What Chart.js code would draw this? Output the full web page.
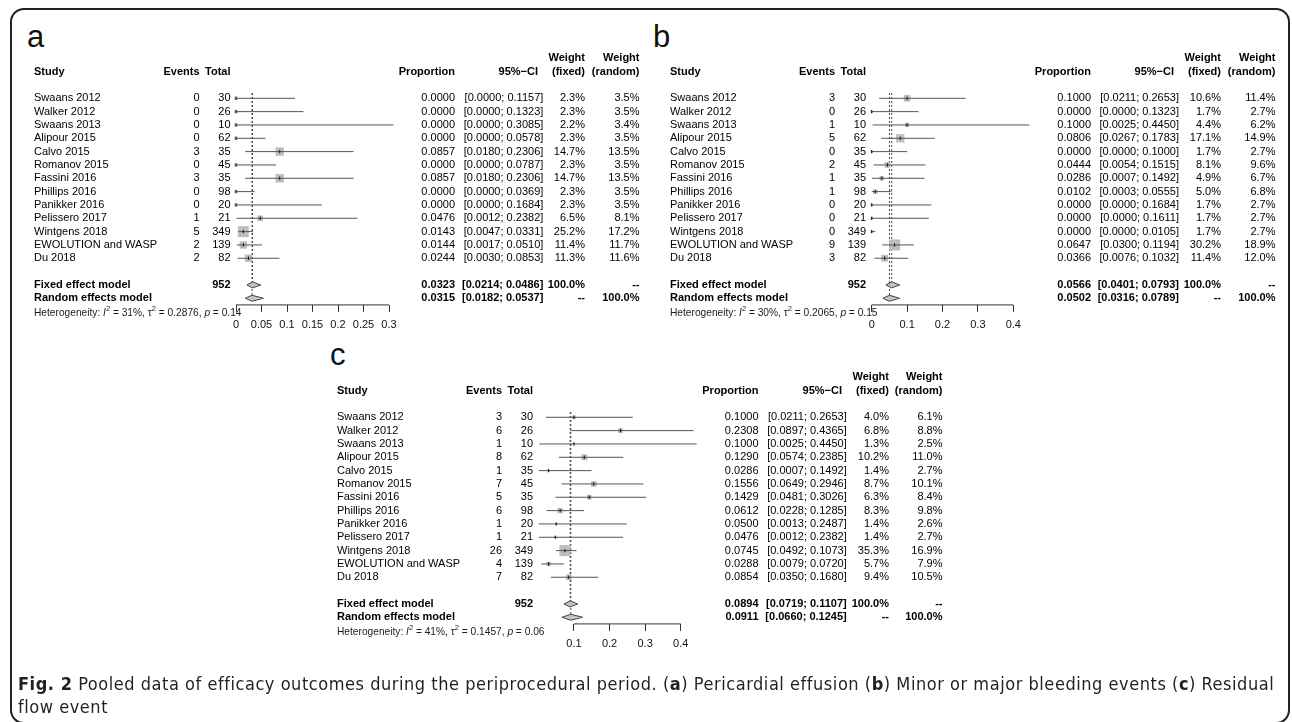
<!DOCTYPE html>
<html><head><meta charset="utf-8">
<script src="https://cdn.jsdelivr.net/npm/chart.js@4.4.1/dist/chart.umd.min.js"></script>
<style>
html,body{margin:0;padding:0;background:#fff;}
body{width:1292px;height:722px;position:relative;overflow:hidden;font-family:"Liberation Sans",Arial,sans-serif;}
.frame{position:absolute;left:10px;top:8px;width:1276px;height:712px;border:2px solid #222;border-radius:14px;}
canvas{position:absolute;left:0;top:0;}
.lbl{position:absolute;font-size:31px;color:#111;line-height:30px;}
.cap{position:absolute;left:18px;top:672px;font-family:"Liberation Sans Narrow","DejaVu Sans Condensed",sans-serif;font-size:18px;letter-spacing:0.54px;line-height:23px;color:#231f20;white-space:nowrap;}
</style></head>
<body>
<div class="frame"></div>
<div class="lbl" style="left:27px;top:22px;">a</div>
<div class="lbl" style="left:653px;top:22px;">b</div>
<div class="lbl" style="left:330px;top:340px;">c</div>
<canvas id="ca" width="1292" height="722"></canvas>
<canvas id="cb" width="1292" height="722"></canvas>
<canvas id="cc" width="1292" height="722"></canvas>
<div class="cap"><b>Fig. 2</b> Pooled data of efficacy outcomes during the periprocedural period. (<b>a</b>) Pericardial effusion (<b>b</b>) Minor or major bleeding events (<b>c</b>) Residual<br>flow event</div>
<script>
// ---------- data ----------
const studies = ['Swaans 2012','Walker 2012','Swaans 2013','Alipour 2015','Calvo 2015','Romanov 2015','Fassini 2016','Phillips 2016','Panikker 2016','Pelissero 2017','Wintgens 2018','EWOLUTION and WASP','Du 2018'];
const totals = [30,26,10,62,35,45,35,98,20,21,349,139,82];

// panel a: pericardial effusion
const eventsA = [0,0,0,0,3,0,3,0,0,1,5,2,2];
const propA = [0,0,0,0,0.0857,0,0.0857,0,0,0.0476,0.0143,0.0144,0.0244];
const lowA = [0,0,0,0,0.0180,0,0.0180,0,0,0.0012,0.0047,0.0017,0.0030];
const highA = [0.1157,0.1323,0.3085,0.0578,0.2306,0.0787,0.2306,0.0369,0.1684,0.2382,0.0331,0.0510,0.0853];
const wFixedA = [2.3,2.3,2.2,2.3,14.7,2.3,14.7,2.3,2.3,6.5,25.2,11.4,11.3];
const wRandomA = [3.5,3.5,3.4,3.5,13.5,3.5,13.5,3.5,3.5,8.1,17.2,11.7,11.6];
const fixedA = [0.0323,0.0214,0.0486];
const randomA = [0.0315,0.0182,0.0537];
const hetA = ['31%','0.2876','0.14'];
const ticksA = [0,0.05,0.1,0.15,0.2,0.25,0.3];
const tickLabelsA = ['0','0.05','0.1','0.15','0.2','0.25','0.3'];

// panel b: bleeding events
const eventsB = [3,0,1,5,0,2,1,1,0,0,0,9,3];
const propB = [0.1000,0,0.1000,0.0806,0,0.0444,0.0286,0.0102,0,0,0,0.0647,0.0366];
const lowB = [0.0211,0,0.0025,0.0267,0,0.0054,0.0007,0.0003,0,0,0,0.0300,0.0076];
const highB = [0.2653,0.1323,0.4450,0.1783,0.1000,0.1515,0.1492,0.0555,0.1684,0.1611,0.0105,0.1194,0.1032];
const wFixedB = [10.6,1.7,4.4,17.1,1.7,8.1,4.9,5.0,1.7,1.7,1.7,30.2,11.4];
const wRandomB = [11.4,2.7,6.2,14.9,2.7,9.6,6.7,6.8,2.7,2.7,2.7,18.9,12.0];
const fixedB = [0.0566,0.0401,0.0793];
const randomB = [0.0502,0.0316,0.0789];
const hetB = ['30%','0.2065','0.15'];
const ticksB = [0,0.1,0.2,0.3,0.4];
const tickLabelsB = ['0','0.1','0.2','0.3','0.4'];

// panel c: residual flow
const eventsC = [3,6,1,8,1,7,5,6,1,1,26,4,7];
const propC = [0.1000,0.2308,0.1000,0.1290,0.0286,0.1556,0.1429,0.0612,0.0500,0.0476,0.0745,0.0288,0.0854];
const lowC = [0.0211,0.0897,0.0025,0.0574,0.0007,0.0649,0.0481,0.0228,0.0013,0.0012,0.0492,0.0079,0.0350];
const highC = [0.2653,0.4365,0.4450,0.2385,0.1492,0.2946,0.3026,0.1285,0.2487,0.2382,0.1073,0.0720,0.1680];
const wFixedC = [4.0,6.8,1.3,10.2,1.4,8.7,6.3,8.3,1.4,1.4,35.3,5.7,9.4];
const wRandomC = [6.1,8.8,2.5,11.0,2.7,10.1,8.4,9.8,2.6,2.7,16.9,7.9,10.5];
const fixedC = [0.0894,0.0719,0.1107];
const randomC = [0.0911,0.0660,0.1245];
const hetC = ['41%','0.1457','0.06'];
const ticksC = [0.1,0.2,0.3,0.4];
const tickLabelsC = ['0.1','0.2','0.3','0.4'];

// ---------- layout ----------
const W = 1292, H = 722, ROW = 13.33, HALF_D = 0.225, MAXBOX = 11, AXIS_H = 40;
const FONT = '"Liberation Sans", Arial, sans-serif';
Chart.defaults.font.family = FONT;

// xl/xr: pixel of scale min/max
const layouts = {
  a: {y0: 98.3, xmin: 0, xmax: 0.3, xl: 236, xr: 389, study: 34, ev: 199.5, tot: 230.5, est: 455, ci: 543.3, ciHdr: 538, wf: 585, wr: 639.5},
  b: {y0: 98.3, xmin: 0, xmax: 0.4, xl: 871.7, xr: 1013.3, study: 670, ev: 835, tot: 866, est: 1091, ci: 1179, ciHdr: 1174, wf: 1221, wr: 1275.5},
  c: {y0: 417.3, xmin: 0, xmax: 0.4, xl: 538.4, xr: 680.7, study: 337, ev: 502, tot: 533, est: 758.5, ci: 846.7, ciHdr: 842, wf: 889, wr: 942.5}
};

const totalN = totals.reduce((s, v) => s + v, 0);
const fmtCI = (lo, hi) => '[' + lo.toFixed(4) + '; ' + hi.toFixed(4) + ']';

function makeChart(canvasId, d, L) {
  const n = studies.length;
  const rowF = n + 1, rowR = n + 2, rowAxis = n + 2.5;
  const wmax = Math.max(...d.wFixed);
  const ci = [];
  studies.forEach((s, i) => { ci.push({x: d.low[i], y: i}, {x: d.high[i], y: i}, {x: null, y: null}); });
  const pts = d.prop.map((p, i) => ({x: p, y: i}));
  // half diamonds (left to right), each filled towards its centre row; trailing gap keeps all points
  const halfDiamond = (v, r, sgn) => [{x: v[1], y: r}, {x: v[0], y: r + sgn * HALF_D}, {x: v[2], y: r}, {x: null, y: null}];
  const dia = (v, r, sgn) => ({data: halfDiamond(v, r, sgn), showLine: true, spanGaps: false, fill: {value: r},
    backgroundColor: '#c2c2c2', borderColor: '#444', borderWidth: 1, pointRadius: 0, clip: false});
  const ref = [{x: d.fixed[0], y: -0.4}, {x: d.fixed[0], y: rowF + 0.2}, {x: null, y: null},
               {x: d.random[0], y: -0.4}, {x: d.random[0], y: rowR + 0.2}];
  const axisLine = [{x: d.ticks[0], y: rowAxis}, {x: d.ticks[d.ticks.length - 1], y: rowAxis}, {x: null, y: null}];

  const tablePlugin = {
    id: 'table_' + canvasId,
    afterDraw(chart) {
      const ctx = chart.ctx, ys = chart.scales.y;
      const Y = r => ys.getPixelForValue(r);
      ctx.save();
      ctx.fillStyle = '#000';
      ctx.textBaseline = 'middle';
      const t = (s, x, r, align, bold) => {
        ctx.font = (bold ? 'bold ' : '') + '11px ' + FONT;
        ctx.textAlign = align;
        ctx.fillText(s, x, Y(r));
      };
      t('Study', L.study, -2, 'left', true);
      t('Events', L.ev, -2, 'right', true);
      t('Total', L.tot, -2, 'right', true);
      t('Proportion', L.est, -2, 'right', true);
      t('95%\u2212CI', L.ciHdr, -2, 'right', true);
      t('Weight', L.wf, -3, 'right', true);
      t('(fixed)', L.wf, -2, 'right', true);
      t('Weight', L.wr, -3, 'right', true);
      t('(random)', L.wr, -2, 'right', true);
      studies.forEach((s, i) => {
        t(s, L.study, i, 'left');
        t(String(d.events[i]), L.ev, i, 'right');
        t(String(totals[i]), L.tot, i, 'right');
        t(d.prop[i].toFixed(4), L.est, i, 'right');
        t(fmtCI(d.low[i], d.high[i]), L.ci, i, 'right');
        t(d.wFixed[i].toFixed(1) + '%', L.wf, i, 'right');
        t(d.wRandom[i].toFixed(1) + '%', L.wr, i, 'right');
      });
      t('Fixed effect model', L.study, rowF, 'left', true);
      t(String(totalN), L.tot, rowF, 'right', true);
      t(d.fixed[0].toFixed(4), L.est, rowF, 'right', true);
      t(fmtCI(d.fixed[1], d.fixed[2]), L.ci, rowF, 'right', true);
      t('100.0%', L.wf, rowF, 'right', true);
      t('--', L.wr, rowF, 'right', true);
      t('Random effects model', L.study, rowR, 'left', true);
      t(d.random[0].toFixed(4), L.est, rowR, 'right', true);
      t(fmtCI(d.random[1], d.random[2]), L.ci, rowR, 'right', true);
      t('--', L.wf, rowR, 'right', true);
      t('100.0%', L.wr, rowR, 'right', true);
      // heterogeneity
      let x = L.study; const yy = Y(rowR + 1.1);
      ctx.textAlign = 'left';
      ctx.fillStyle = '#1a1a1a';
      const part = (s, font, dy) => { ctx.font = font; ctx.fillText(s, x, yy + (dy || 0)); x += ctx.measureText(s).width; };
      const f = '10.2px ' + FONT, fi = 'italic 10.2px ' + FONT, fs = '7.5px ' + FONT;
      part('Heterogeneity: ', f); part('I', fi); part('2', fs, -4);
      part(' = ' + d.het[0] + ', ', f); part('\u03C4', f); part('2', fs, -4);
      part(' = ' + d.het[1] + ', ', f); part('p', fi); part(' = ' + d.het[2], f);
      ctx.restore();
    }
  };

  return new Chart(document.getElementById(canvasId), {
    type: 'scatter',
    data: {
      datasets: [
        {data: pts, pointStyle: 'line', pointRotation: 90, pointRadius: 1.7, pointBorderColor: '#111', pointBorderWidth: 1, clip: false},
        {data: ci, showLine: true, spanGaps: false, borderColor: '#555', borderWidth: 1, pointRadius: 0, clip: false},
        dia(d.fixed, rowF, -1), dia(d.fixed, rowF, 1),
        dia(d.random, rowR, -1), dia(d.random, rowR, 1),
        {data: pts, pointStyle: 'rect', pointRadius: c => MAXBOX * Math.sqrt(d.wFixed[c.dataIndex] / wmax) / Math.SQRT2,
         pointBackgroundColor: '#bdbdbd', pointBorderWidth: 0, clip: false},
        {data: ref, showLine: true, spanGaps: false, borderColor: '#444', borderWidth: 1, borderDash: [2, 2], pointRadius: 0, clip: false},
        {data: axisLine, showLine: true, spanGaps: false, borderColor: '#333', borderWidth: 1, pointRadius: 0, clip: false}
      ]
    },
    options: {
      responsive: false, animation: false, devicePixelRatio: 1, events: [],
      layout: {padding: {left: L.xl, right: W - L.xr, top: L.y0 - ROW, bottom: H - (L.y0 + rowAxis * ROW) - AXIS_H}},
      plugins: {legend: {display: false}, tooltip: {enabled: false}},
      scales: {
        x: {
          type: 'linear', min: L.xmin, max: L.xmax,
          afterBuildTicks: s => { s.ticks = d.ticks.map(v => ({value: v})); },
          afterFit: s => { s.height = AXIS_H; },
          ticks: {callback: (v, i) => d.tickLabels[i], autoSkip: false, maxRotation: 0, padding: 6, color: '#111', font: {size: 11}},
          grid: {drawOnChartArea: false, drawTicks: true, tickLength: 7, color: '#333', lineWidth: 1},
          border: {display: false}
        },
        y: {type: 'linear', display: false, reverse: true, min: -1, max: rowAxis}
      }
    },
    plugins: [tablePlugin]
  });
}

makeChart('ca', {events: eventsA, prop: propA, low: lowA, high: highA, wFixed: wFixedA, wRandom: wRandomA, fixed: fixedA, random: randomA, het: hetA, ticks: ticksA, tickLabels: tickLabelsA}, layouts.a);
makeChart('cb', {events: eventsB, prop: propB, low: lowB, high: highB, wFixed: wFixedB, wRandom: wRandomB, fixed: fixedB, random: randomB, het: hetB, ticks: ticksB, tickLabels: tickLabelsB}, layouts.b);
makeChart('cc', {events: eventsC, prop: propC, low: lowC, high: highC, wFixed: wFixedC, wRandom: wRandomC, fixed: fixedC, random: randomC, het: hetC, ticks: ticksC, tickLabels: tickLabelsC}, layouts.c);
</script>
</body></html>
